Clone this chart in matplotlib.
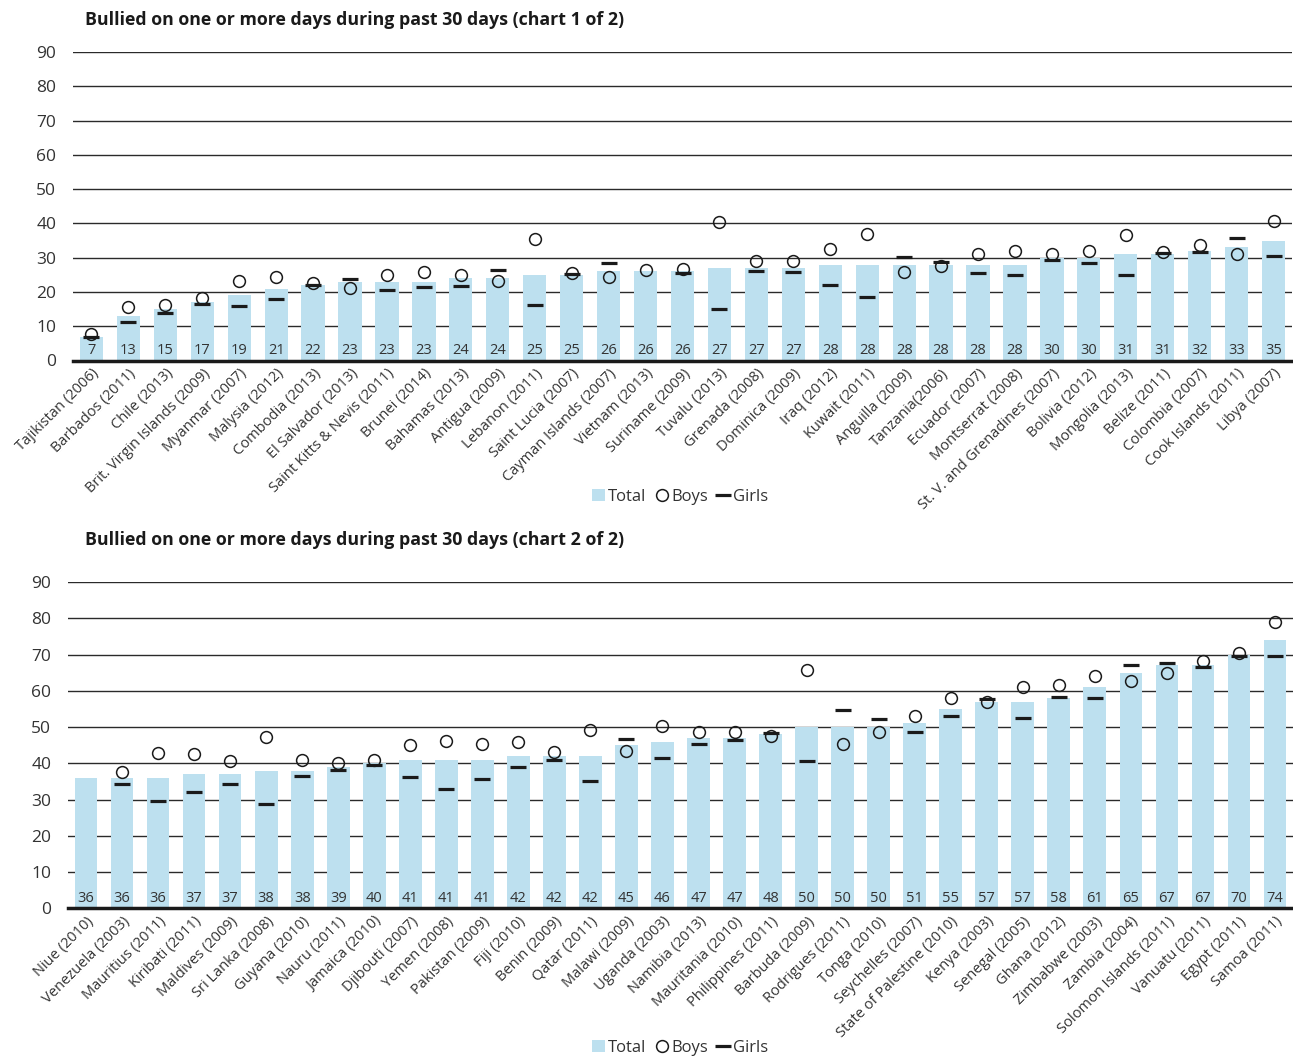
import numpy as np
import matplotlib
matplotlib.use("Agg")
import matplotlib.pyplot as plt
from matplotlib.lines import Line2D
from matplotlib.patches import Patch

plt.rcParams['font.family'] = ['Open Sans', 'DejaVu Sans']

# ---------------- Chart 1 data ----------------
countries1 = ["Tajikistan (2006)", "Barbados (2011)", "Chile (2013)", "Brit. Virgin Islands (2009)",
              "Myanmar (2007)", "Malysia (2012)", "Combodia (2013)", "El Salvador (2013)",
              "Saint Kitts & Nevis (2011)", "Brunei (2014)", "Bahamas (2013)", "Antigua (2009)",
              "Lebanon (2011)", "Saint Lucia (2007)", "Cayman Islands (2007)", "Vietnam (2013)",
              "Suriname (2009)", "Tuvalu (2013)", "Grenada (2008)", "Dominica (2009)", "Iraq (2012)",
              "Kuwait (2011)", "Anguilla (2009)", "Tanzania(2006)", "Ecuador (2007)", "Montserrat (2008)",
              "St. V. and Grenadines (2007)", "Bolivia (2012)", "Mongolia (2013)", "Belize (2011)",
              "Colombia (2007)", "Cook Islands (2011)", "Libya (2007)"]
total1 = [7, 13, 15, 17, 19, 21, 22, 23, 23, 23, 24, 24, 25, 25, 26, 26, 26, 27, 27, 27, 28, 28,
          28, 28, 28, 28, 30, 30, 31, 31, 32, 33, 35]
boys1 = [7.6, 15.7, 16.2, 18.3, 23.2, 24.4, 22.6, 21.1, 25.0, 25.7, 24.9, 23.2, 35.3, 25.5, 24.4, 26.3,
         26.7, 40.5, 29.0, 28.9, 32.6, 36.9, 25.7, 27.6, 31.2, 32.0, 31.2, 31.8, 36.5, 31.7, 33.6, 31.0, 40.6]
girls1 = [7.0, 11.1, 13.8, 16.5, 15.9, 17.9, 21.9, 23.9, 20.5, 21.5, 21.7, 26.4, 16.3, 25.2, 28.4, np.nan,
          25.6, 15.1, 26.1, 25.9, 21.9, 18.5, 30.2, 28.6, 25.5, 25.0, 29.3, 28.3, 25.0, 31.3, 31.6, 35.8, 30.5]

# ---------------- Chart 2 data ----------------
countries2 = ["Niue (2010)", "Venezuela (2003)", "Mauritius (2011)", "Kiribati (2011)", "Maldives (2009)",
              "Sri Lanka (2008)", "Guyana (2010)", "Nauru (2011)", "Jamaica (2010)", "Djibouti (2007)",
              "Yemen (2008)", "Pakistan (2009)", "Fiji (2010)", "Benin (2009)", "Qatar (2011)",
              "Malawi (2009)", "Uganda (2003)", "Namibia (2013)", "Mauritania (2010)", "Philippines (2011)",
              "Barbuda (2009)", "Rodrigues (2011)", "Tonga (2010)", "Seychelles (2007)",
              "State of Palestine (2010)", "Kenya (2003)", "Senegal (2005)", "Ghana (2012)",
              "Zimbabwe (2003)", "Zambia (2004)", "Solomon Islands (2011)", "Vanuatu (2011)",
              "Egypt (2011)", "Samoa (2011)"]
total2 = [36, 36, 36, 37, 37, 38, 38, 39, 40, 41, 41, 41, 42, 42, 42, 45, 46, 47, 47, 48, 50, 50,
          50, 51, 55, 57, 57, 58, 61, 65, 67, 67, 70, 74]
boys2 = [np.nan, 37.7, 42.7, 42.6, 40.6, 47.3, 40.8, 40.2, 40.8, 45.0, 46.1, 45.4, 46.0, 43.2, 49.2,
         43.3, 50.4, 48.5, 48.5, 47.6, 65.7, 45.2, 48.6, 53.1, 58.1, 56.9, 61.0, 61.7, 64.1, 62.7,
         64.8, 68.3, 70.4, 79.0]
girls2 = [np.nan, 34.3, 29.7, 32.2, 34.3, 28.8, 36.6, 38.2, 39.6, 36.1, 32.8, 35.6, 39.1, 40.8, 35.0,
          46.7, 41.4, 45.4, 46.4, 48.3, 40.5, 54.6, 52.3, 48.6, 53.1, 57.7, 52.4, 58.3, 58.1, 67.1,
          67.7, 66.5, 69.5, 69.5]

yticks = [0, 10, 20, 30, 40, 50, 60, 70, 80, 90]
title1 = "Bullied on one or more days during past 30 days (chart 1 of 2)"
title2 = "Bullied on one or more days during past 30 days (chart 2 of 2)"

BAR = "#bde0ef"
TXT = "#333333"

W, H = 1293, 1059
fig = plt.figure(figsize=(W / 100, H / 100), dpi=100)


def fx(px):
    return px / W


def fy(py):
    return 1 - py / H


def draw(ax, cats, total, boys, girls):
    x = np.arange(len(cats))
    ax.set_axisbelow(True)
    ax.bar(x, total, width=0.63, color=BAR, zorder=2)
    ax.plot(x, boys, linestyle='none', marker='o', markersize=8.5, markerfacecolor='none',
            markeredgecolor='#1a1a1a', markeredgewidth=1.1, zorder=3)
    ax.plot(x, girls, linestyle='none', marker='_', markersize=11, markeredgewidth=2.3,
            color='#1a1a1a', zorder=4)
    for xi, t in zip(x, total):
        ax.annotate(str(t), (xi, 0), xytext=(0, 1.5), textcoords='offset points',
                    ha='center', va='bottom', fontsize=10.5, color=TXT, zorder=5)
    ax.set_ylim(0, 90)
    ax.set_xlim(-0.5, len(cats) - 0.5)
    ax.set_yticks(yticks)
    ax.set_yticklabels([str(v) for v in yticks], fontsize=12.5, color=TXT)
    ax.yaxis.grid(True, color='#2a2a2a', linewidth=1.0)
    ax.tick_params(axis='both', length=0)
    ax.tick_params(axis='y', pad=12)
    ax.tick_params(axis='x', pad=4)
    ax.set_xticks(x)
    ax.set_xticklabels(cats, rotation=45, ha='right', rotation_mode='anchor', fontsize=10.5, color=TXT)
    for s in ['top', 'right', 'left']:
        ax.spines[s].set_visible(False)
    ax.spines['bottom'].set_color('#1a1a1a')
    ax.spines['bottom'].set_linewidth(2.5)
    ax.spines['bottom'].set_zorder(6)


# Top chart
ax1 = fig.add_axes([fx(73), fy(360.5), fx(1292) - fx(73), fy(52) - fy(360.5)])
draw(ax1, countries1, total1, boys1, girls1)
# Bottom chart
ax2 = fig.add_axes([fx(68), fy(908.3), fx(1293) - fx(68), fy(582) - fy(908.3)])
draw(ax2, countries2, total2, boys2, girls2)

fig.text(fx(85), fy(20), title1, fontsize=12.8, fontweight='bold', color='#1a1a1a', va='center', ha='left')
fig.text(fx(85), fy(540), title2, fontsize=12.8, fontweight='bold', color='#1a1a1a', va='center', ha='left')

handles = [Patch(facecolor=BAR, edgecolor='none', label='Total'),
           Line2D([], [], linestyle='none', marker='o', markersize=8.5, markerfacecolor='none',
                  markeredgecolor='#1a1a1a', markeredgewidth=1.1, label='Boys'),
           Line2D([], [], linestyle='none', marker='_', markersize=11, markeredgewidth=2.3,
                  color='#1a1a1a', label='Girls')]
for ycen in (497, 1048):
    fig.legend(handles=handles, loc='center', bbox_to_anchor=(fx(680), fy(ycen)), ncol=3,
               frameon=False, fontsize=12, handlelength=0.8, handletextpad=0.2,
               columnspacing=0.5, labelcolor=TXT)

fig.savefig("out.png", dpi=100)
